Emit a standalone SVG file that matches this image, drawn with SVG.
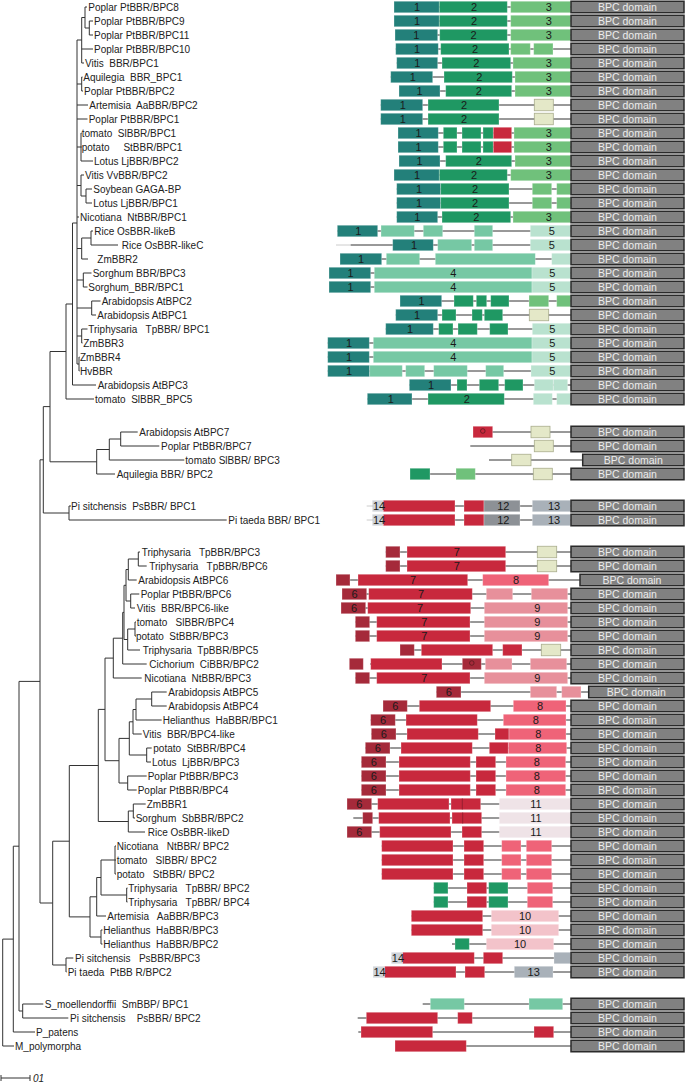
<svg xmlns="http://www.w3.org/2000/svg" width="686" height="1084" viewBox="0 0 686 1084">
<style>
.t{font-family:"Liberation Sans",Arial,sans-serif;font-size:10px;fill:#222;white-space:pre}
.n{font-family:"Liberation Sans",Arial,sans-serif;font-size:11px;fill:#1a1a1a;text-anchor:middle}
.ns{font-family:"Liberation Sans",Arial,sans-serif;font-size:11px;fill:#1a1a1a}
.bt{font-family:"Liberation Sans",Arial,sans-serif;font-size:10.5px;fill:#ececec;text-anchor:middle}
.br{fill:none;stroke:#333;stroke-width:1}
.ln{stroke:#333;stroke-width:1}
.lf{stroke:#ccc;stroke-width:1}
rect{stroke:#fff;stroke-opacity:.35;stroke-width:.8}
.bpc{fill:#818181;stroke:#2a2a2a;stroke-opacity:1;stroke-width:1.5}
.d1{fill:#23807a}.d2{fill:#1f9863}.d3{fill:#70c17b}.d4{fill:#76c8a4}.d5{fill:#b9e2cf}
.dp{fill:#e4e8c8;stroke:#a9ad8d;stroke-opacity:1}
.r{fill:#c8283d}.r6{fill:#a52a3a}.p8{fill:#ef6378}.p9{fill:#e7909b}.p10{fill:#f3c3ca}.p11{fill:#efe3e7}
.g12{fill:#8d9196}.g13{fill:#a9b1b9}.g14{fill:#cfd3d8}
.sym{fill:none;stroke:#5a1a20;stroke-width:.8}
</style>
<rect x="0" y="0" width="686" height="1084" fill="#fff" stroke="none"/>
<g id="tree" class="br">
<path d="M89.3,21V35M89.3,21H93M89.3,35H93M85,7V28M85,7H87M85,28H89.3M81.7,17.5V63M81.7,17.5H85M81.7,49H93M81.7,63H84M81.7,77V91M81.7,77H82.5M81.7,91H83M77,40V364M77,40H81.7M77,84H81.7M77,105H88M77,119H87.5M81,133V161M81,133H81.7M81,147H81.7M81,161H93M77,147H81M86,189V203M86,189H92M86,203H92M81,175V196M81,175H84M81,196H86M77,185.5H81M77,217H79M91,231V245M91,231H93M91,245H118M81.7,238V259M81.7,238H91M81.7,259H88M77,248.5H81.7M83.3,273V287M83.3,273H91.5M83.3,287H87.5M77,280H83.3M91.7,301V315M91.7,301H100.5M91.7,315H96M77,308H91.7M81.7,329V343M81.7,329H87.5M81.7,343H82.5M77,336H81.7M79,357V371M79,357H79.5M79,371H79.5M77,364H79M72.5,223V385M72.5,223H77M72.5,385H96M66,304V399M66,304H72.5M66,399H94M50,351.5V461.8M50,351.5H66"/>
<path d="M120.7,432V446M120.7,432H137.7M120.7,446H159.3M109.3,439V460M109.3,439H120.7M109.3,460H184.3M96.7,449.5V474M96.7,449.5H109.3M96.7,474H115M50,461.8H96.7"/>
<path d="M69,506V520M69,506H71M69,520H226.7M43.3,406.6V513M43.3,406.6H50M43.3,513H69M40,459.8V903M40,459.8H43.3M40,903H52.7"/>
<path d="M138.3,552V566M138.3,552H140M138.3,566H146.7M128.3,559V580M128.3,559H138.3M128.3,580H136.7M130.7,594V608M130.7,594H139.3M130.7,608H135M126,569.5V601M126,569.5H128.3M126,601H130.7M135,622V636M135,622H136M135,636H136M127.7,629V650M127.7,629H135M127.7,650H140M124,585.3V639.5M124,585.3H126M124,639.5H127.7M122.7,612.4V664M122.7,612.4H124M122.7,664H146.7M113.3,638.2V678M113.3,638.2H122.7M113.3,678H141.7"/>
<path d="M151.7,692V706M151.7,692H166.7M151.7,706H166.7M136,699V720M136,699H151.7M136,720H161.7M133,709.5V734M133,709.5H136M133,734H141.7M146.7,748V762M146.7,748H151.7M146.7,762H151M129.3,721.8V755M129.3,721.8H133M129.3,755H146.7M127.7,776V790M127.7,776H146.7M127.7,790H136.7M119,738.4V783M119,738.4H129.3M119,783H127.7M105,658.1V760.7M105,658.1H113.3M105,760.7H119"/>
<path d="M133.3,804V818M133.3,804H145.7M133.3,818H135M128.3,811V832M128.3,811H133.3M128.3,832H145M98.3,709.4V821.5M98.3,709.4H105M98.3,821.5H128.3"/>
<path d="M115,846V874M115,846H116M115,860H116M115,874H116M126.7,888V902M126.7,888H127.5M126.7,902H127.5M101,860V895M101,860H115M101,895H126.7M96.7,877.5V916M96.7,877.5H101M96.7,916H106M101,930V944M101,930H102.5M101,944H102.5M90,896.8V937M90,896.8H96.7M90,937H101M69.3,765.5V916.9M69.3,765.5H98.3M69.3,916.9H90M66,958V972M66,958H73.3M66,972H66.5M52.7,841.2V965M52.7,841.2H69.3M52.7,965H66"/>
<path d="M19,681.4V1011M19,681.4H40M19,1011H22.7M22.7,1004V1018M22.7,1004H43.3M22.7,1018H68.3M13.3,846.2V1032M13.3,846.2H19M13.3,1032H35M2.7,939.1V1046M2.7,939.1H13.3M2.7,1046H14"/>
<path d="M1,1078H30M1,1075V1081M30,1075V1081"/>
</g>
<text class="t" x="33" y="1081.5" font-style="italic">01</text>

<g id="r1" transform="translate(0,7)"><text class="t" x="88.3" y="3.5">Poplar PtBBR/BPC8</text><line class="ln" x1="394" x2="571"/><rect class="d1" x="394" y="-5.75" width="45.3" height="11.5"/><rect class="d2" x="439.3" y="-5.75" width="68" height="11.5"/><rect class="d3" x="510.7" y="-5.75" width="60" height="11.5"/><text class="n" x="417" y="4">1</text><text class="n" x="474" y="4">2</text><text class="n" x="548.7" y="4">3</text><rect class="bpc" x="571" y="-5.75" width="113" height="11.5"/><text class="bt" x="627.5" y="3.8">BPC domain</text></g>
<g id="r2" transform="translate(0,21)"><text class="t" x="94" y="3.5">Poplar PtBBR/BPC9</text><line class="ln" x1="394" x2="571"/><rect class="d1" x="394" y="-5.75" width="45.3" height="11.5"/><rect class="d2" x="439.3" y="-5.75" width="68" height="11.5"/><rect class="d3" x="510.7" y="-5.75" width="60" height="11.5"/><text class="n" x="417" y="4">1</text><text class="n" x="474" y="4">2</text><text class="n" x="548.7" y="4">3</text><rect class="bpc" x="571" y="-5.75" width="113" height="11.5"/><text class="bt" x="627.5" y="3.8">BPC domain</text></g>
<g id="r3" transform="translate(0,35)"><text class="t" x="94" y="3.5">Poplar PtBBR/BPC11</text><line class="ln" x1="395" x2="571"/><rect class="d1" x="395" y="-5.75" width="42.7" height="11.5"/><rect class="d2" x="439.7" y="-5.75" width="67.6" height="11.5"/><rect class="d3" x="510.7" y="-5.75" width="60" height="11.5"/><text class="n" x="416.3" y="4">1</text><text class="n" x="473.5" y="4">2</text><text class="n" x="548.7" y="4">3</text><rect class="bpc" x="571" y="-5.75" width="113" height="11.5"/><text class="bt" x="627.5" y="3.8">BPC domain</text></g>
<g id="r4" transform="translate(0,49)"><text class="t" x="94" y="3.5">Poplar PtBBR/BPC10</text><line class="ln" x1="395.7" x2="571"/><rect class="d1" x="395.7" y="-5.75" width="42.6" height="11.5"/><rect class="d2" x="440.7" y="-5.75" width="68.3" height="11.5"/><rect class="d3" x="510.7" y="-5.75" width="19.6" height="11.5"/><rect class="d3" x="533.7" y="-5.75" width="19.3" height="11.5"/><text class="n" x="417" y="4">1</text><text class="n" x="475" y="4">2</text><rect class="bpc" x="571" y="-5.75" width="113" height="11.5"/><text class="bt" x="627.5" y="3.8">BPC domain</text></g>
<g id="r5" transform="translate(0,63)"><text class="t" x="85" y="3.5">Vitis  BBR/BPC1</text><line class="ln" x1="396.7" x2="571"/><rect class="d1" x="396.7" y="-5.75" width="41" height="11.5"/><rect class="d2" x="442" y="-5.75" width="68.7" height="11.5"/><rect class="d3" x="513" y="-5.75" width="57.7" height="11.5"/><text class="n" x="417.2" y="4">1</text><text class="n" x="476.3" y="4">2</text><text class="n" x="548.7" y="4">3</text><rect class="bpc" x="571" y="-5.75" width="113" height="11.5"/><text class="bt" x="627.5" y="3.8">BPC domain</text></g>
<g id="r6" transform="translate(0,77)"><text class="t" x="83.3" y="3.5">Aquilegia  BBR_BPC1</text><line class="ln" x1="390.7" x2="571"/><rect class="d1" x="390.7" y="-5.75" width="42" height="11.5"/><rect class="d2" x="444" y="-5.75" width="68.3" height="11.5"/><rect class="d3" x="515" y="-5.75" width="55.7" height="11.5"/><text class="n" x="412.7" y="4">1</text><text class="n" x="479.3" y="4">2</text><text class="n" x="548.7" y="4">3</text><rect class="bpc" x="571" y="-5.75" width="113" height="11.5"/><text class="bt" x="627.5" y="3.8">BPC domain</text></g>
<g id="r7" transform="translate(0,91)"><text class="t" x="84" y="3.5">Poplar PtBBR/BPC2</text><line class="ln" x1="399" x2="571"/><rect class="d1" x="399" y="-5.75" width="41" height="11.5"/><rect class="d2" x="445.7" y="-5.75" width="66" height="11.5"/><rect class="d3" x="515" y="-5.75" width="55.7" height="11.5"/><text class="n" x="419.5" y="4">1</text><text class="n" x="478.7" y="4">2</text><text class="n" x="548.7" y="4">3</text><rect class="bpc" x="571" y="-5.75" width="113" height="11.5"/><text class="bt" x="627.5" y="3.8">BPC domain</text></g>
<g id="r8" transform="translate(0,105)"><text class="t" x="89.3" y="3.5">Artemisia  AaBBR/BPC2</text><line class="ln" x1="380.7" x2="571"/><rect class="d1" x="380.7" y="-5.75" width="42" height="11.5"/><rect class="d2" x="428" y="-5.75" width="71" height="11.5"/><rect class="dp" x="534.3" y="-5.75" width="19" height="11.5"/><text class="n" x="402.7" y="4">1</text><text class="n" x="464" y="4">2</text><rect class="bpc" x="571" y="-5.75" width="113" height="11.5"/><text class="bt" x="627.5" y="3.8">BPC domain</text></g>
<g id="r9" transform="translate(0,119)"><text class="t" x="88.7" y="3.5">Poplar PtBBR/BPC1</text><line class="ln" x1="380.7" x2="571"/><rect class="d1" x="380.7" y="-5.75" width="42" height="11.5"/><rect class="d2" x="428" y="-5.75" width="71" height="11.5"/><rect class="dp" x="534.3" y="-5.75" width="19" height="11.5"/><text class="n" x="402.7" y="4">1</text><text class="n" x="464" y="4">2</text><rect class="bpc" x="571" y="-5.75" width="113" height="11.5"/><text class="bt" x="627.5" y="3.8">BPC domain</text></g>
<g id="r10" transform="translate(0,133)"><text class="t" x="81.7" y="3.5">tomato  SlBBR/BPC1</text><line class="ln" x1="398" x2="571"/><rect class="d1" x="398" y="-5.75" width="40.3" height="11.5"/><rect class="d2" x="443.3" y="-5.75" width="13.7" height="11.5"/><rect class="d2" x="462" y="-5.75" width="19" height="11.5"/><rect class="d2" x="483" y="-5.75" width="10.3" height="11.5"/><rect class="r" x="493.3" y="-5.75" width="18.4" height="11.5"/><rect class="d3" x="514" y="-5.75" width="56.7" height="11.5"/><text class="n" x="418.5" y="4">1</text><text class="n" x="548.7" y="4">3</text><rect class="bpc" x="571" y="-5.75" width="113" height="11.5"/><text class="bt" x="627.5" y="3.8">BPC domain</text></g>
<g id="r11" transform="translate(0,147)"><text class="t" x="81.7" y="3.5">potato     StBBR/BPC1</text><line class="ln" x1="398" x2="571"/><rect class="d1" x="398" y="-5.75" width="40.3" height="11.5"/><rect class="d2" x="443.3" y="-5.75" width="13.7" height="11.5"/><rect class="d2" x="462" y="-5.75" width="19" height="11.5"/><rect class="d2" x="483" y="-5.75" width="10.3" height="11.5"/><rect class="r" x="493.3" y="-5.75" width="18.4" height="11.5"/><rect class="d3" x="514" y="-5.75" width="56.7" height="11.5"/><text class="n" x="418.5" y="4">1</text><text class="n" x="548.7" y="4">3</text><rect class="bpc" x="571" y="-5.75" width="113" height="11.5"/><text class="bt" x="627.5" y="3.8">BPC domain</text></g>
<g id="r12" transform="translate(0,161)"><text class="t" x="94" y="3.5">Lotus LjBBR/BPC2</text><line class="ln" x1="399" x2="571"/><rect class="d1" x="399" y="-5.75" width="41" height="11.5"/><rect class="d2" x="445.7" y="-5.75" width="66" height="11.5"/><rect class="d3" x="515" y="-5.75" width="55.7" height="11.5"/><text class="n" x="419.5" y="4">1</text><text class="n" x="478.7" y="4">2</text><text class="n" x="548.7" y="4">3</text><rect class="bpc" x="571" y="-5.75" width="113" height="11.5"/><text class="bt" x="627.5" y="3.8">BPC domain</text></g>
<g id="r13" transform="translate(0,175)"><text class="t" x="85" y="3.5">Vitis VvBBR/BPC2</text><line class="ln" x1="394" x2="571"/><rect class="d1" x="394" y="-5.75" width="45.3" height="11.5"/><rect class="d2" x="439.3" y="-5.75" width="68" height="11.5"/><rect class="d3" x="510.7" y="-5.75" width="60" height="11.5"/><text class="n" x="417" y="4">1</text><text class="n" x="474" y="4">2</text><text class="n" x="548.7" y="4">3</text><rect class="bpc" x="571" y="-5.75" width="113" height="11.5"/><text class="bt" x="627.5" y="3.8">BPC domain</text></g>
<g id="r14" transform="translate(0,189)"><text class="t" x="93.3" y="3.5">Soybean GAGA-BP</text><line class="ln" x1="396.7" x2="571"/><rect class="d1" x="396.7" y="-5.75" width="44" height="11.5"/><rect class="d2" x="440.7" y="-5.75" width="68.3" height="11.5"/><rect class="d3" x="532.3" y="-5.75" width="19.4" height="11.5"/><rect class="d3" x="556.7" y="-5.75" width="14" height="11.5"/><text class="n" x="419" y="4">1</text><text class="n" x="475" y="4">2</text><rect class="bpc" x="571" y="-5.75" width="113" height="11.5"/><text class="bt" x="627.5" y="3.8">BPC domain</text></g>
<g id="r15" transform="translate(0,203)"><text class="t" x="93.3" y="3.5">Lotus LjBBR/BPC1</text><line class="ln" x1="396.7" x2="571"/><rect class="d1" x="396.7" y="-5.75" width="44" height="11.5"/><rect class="d2" x="440.7" y="-5.75" width="68.3" height="11.5"/><rect class="d3" x="532.3" y="-5.75" width="19.4" height="11.5"/><rect class="d3" x="556.7" y="-5.75" width="14" height="11.5"/><text class="n" x="419" y="4">1</text><text class="n" x="475" y="4">2</text><rect class="bpc" x="571" y="-5.75" width="113" height="11.5"/><text class="bt" x="627.5" y="3.8">BPC domain</text></g>
<g id="r16" transform="translate(0,217)"><text class="t" x="80" y="3.5">Nicotiana  NtBBR/BPC1</text><line class="ln" x1="396.7" x2="571"/><rect class="d1" x="396.7" y="-5.75" width="41" height="11.5"/><rect class="d2" x="442" y="-5.75" width="68.7" height="11.5"/><rect class="d3" x="513" y="-5.75" width="57.7" height="11.5"/><text class="n" x="417.2" y="4">1</text><text class="n" x="476.3" y="4">2</text><text class="n" x="548.7" y="4">3</text><rect class="bpc" x="571" y="-5.75" width="113" height="11.5"/><text class="bt" x="627.5" y="3.8">BPC domain</text></g>
<g id="r17" transform="translate(0,231)"><text class="t" x="94.3" y="3.5">Rice OsBBR-likeB</text><line class="ln" x1="337.3" x2="571"/><rect class="d1" x="337.3" y="-5.75" width="40.4" height="11.5"/><rect class="d4" x="381" y="-5.75" width="33.3" height="11.5"/><rect class="d4" x="423.3" y="-5.75" width="19.4" height="11.5"/><rect class="d4" x="474.3" y="-5.75" width="18.4" height="11.5"/><rect class="d5" x="530.3" y="-5.75" width="40.4" height="11.5"/><text class="n" x="358.3" y="4">1</text><text class="n" x="551.7" y="4">5</text><rect class="bpc" x="571" y="-5.75" width="113" height="11.5"/><text class="bt" x="627.5" y="3.8">BPC domain</text></g>
<g id="r18" transform="translate(0,245)"><text class="t" x="121.7" y="3.5">Rice OsBBR-likeC</text><line class="lf" x1="336" x2="350.7"/><line class="ln" x1="350.7" x2="571"/><rect class="d1" x="392.7" y="-5.75" width="40.6" height="11.5"/><rect class="d4" x="437.7" y="-5.75" width="34" height="11.5"/><rect class="d4" x="474.3" y="-5.75" width="18.4" height="11.5"/><rect class="d5" x="530.3" y="-5.75" width="40.4" height="11.5"/><text class="n" x="414" y="4">1</text><text class="n" x="551.7" y="4">5</text><rect class="bpc" x="571" y="-5.75" width="113" height="11.5"/><text class="bt" x="627.5" y="3.8">BPC domain</text></g>
<g id="r19" transform="translate(0,259)"><text class="t" x="97.3" y="3.5">ZmBBR2</text><line class="ln" x1="340" x2="571"/><rect class="d1" x="340" y="-5.75" width="41.7" height="11.5"/><rect class="d4" x="386.3" y="-5.75" width="33.4" height="11.5"/><rect class="d4" x="435.3" y="-5.75" width="100" height="11.5"/><rect class="d5" x="551.7" y="-5.75" width="19" height="11.5"/><text class="n" x="361" y="4">1</text><rect class="bpc" x="571" y="-5.75" width="113" height="11.5"/><text class="bt" x="627.5" y="3.8">BPC domain</text></g>
<g id="r20" transform="translate(0,273)"><text class="t" x="92.7" y="3.5">Sorghum BBR/BPC3</text><line class="ln" x1="329" x2="571"/><rect class="d1" x="329" y="-5.75" width="41.7" height="11.5"/><rect class="d4" x="374.3" y="-5.75" width="157.7" height="11.5"/><rect class="d5" x="532" y="-5.75" width="38.7" height="11.5"/><text class="n" x="350.5" y="4">1</text><text class="n" x="453.3" y="4">4</text><text class="n" x="552.3" y="4">5</text><rect class="bpc" x="571" y="-5.75" width="113" height="11.5"/><text class="bt" x="627.5" y="3.8">BPC domain</text></g>
<g id="r21" transform="translate(0,287)"><text class="t" x="88.3" y="3.5">Sorghum_BBR/BPC1</text><line class="ln" x1="329" x2="571"/><rect class="d1" x="329" y="-5.75" width="41.7" height="11.5"/><rect class="d4" x="374.3" y="-5.75" width="157.7" height="11.5"/><rect class="d5" x="532" y="-5.75" width="38.7" height="11.5"/><text class="n" x="350.5" y="4">1</text><text class="n" x="453.3" y="4">4</text><text class="n" x="552.3" y="4">5</text><rect class="bpc" x="571" y="-5.75" width="113" height="11.5"/><text class="bt" x="627.5" y="3.8">BPC domain</text></g>
<g id="r22" transform="translate(0,301)"><text class="t" x="101.7" y="3.5">Arabidopsis AtBPC2</text><line class="ln" x1="400" x2="571"/><rect class="d1" x="400" y="-5.75" width="41.7" height="11.5"/><rect class="d2" x="454" y="-5.75" width="19.3" height="11.5"/><rect class="d2" x="476.3" y="-5.75" width="10.4" height="11.5"/><rect class="d2" x="490.7" y="-5.75" width="18.3" height="11.5"/><rect class="d3" x="529" y="-5.75" width="19.7" height="11.5"/><rect class="d3" x="556.7" y="-5.75" width="14" height="11.5"/><text class="n" x="421.5" y="4">1</text><rect class="bpc" x="571" y="-5.75" width="113" height="11.5"/><text class="bt" x="627.5" y="3.8">BPC domain</text></g>
<g id="r23" transform="translate(0,315)"><text class="t" x="97.3" y="3.5">Arabidopsis AtBPC1</text><line class="ln" x1="395.7" x2="571"/><rect class="d1" x="395.7" y="-5.75" width="42" height="11.5"/><rect class="d2" x="442" y="-5.75" width="14" height="11.5"/><rect class="d2" x="472" y="-5.75" width="10.3" height="11.5"/><rect class="d2" x="484.3" y="-5.75" width="18.4" height="11.5"/><rect class="dp" x="529.3" y="-5.75" width="19.4" height="11.5"/><text class="n" x="417" y="4">1</text><rect class="bpc" x="571" y="-5.75" width="113" height="11.5"/><text class="bt" x="627.5" y="3.8">BPC domain</text></g>
<g id="r24" transform="translate(0,329)"><text class="t" x="88.3" y="3.5">Triphysaria   TpBBR/ BPC1</text><line class="ln" x1="385.7" x2="571"/><rect class="d1" x="385.7" y="-5.75" width="47.6" height="11.5"/><rect class="d2" x="438.7" y="-5.75" width="14.3" height="11.5"/><rect class="d2" x="458" y="-5.75" width="19.3" height="11.5"/><rect class="d2" x="489.7" y="-5.75" width="18.3" height="11.5"/><rect class="d5" x="532.3" y="-5.75" width="38.4" height="11.5"/><text class="n" x="410" y="4">1</text><text class="n" x="552.3" y="4">5</text><rect class="bpc" x="571" y="-5.75" width="113" height="11.5"/><text class="bt" x="627.5" y="3.8">BPC domain</text></g>
<g id="r25" transform="translate(0,343)"><text class="t" x="83.3" y="3.5">ZmBBR3</text><line class="ln" x1="327.7" x2="571"/><rect class="d1" x="327.7" y="-5.75" width="41.6" height="11.5"/><rect class="d4" x="373.3" y="-5.75" width="158.7" height="11.5"/><rect class="d5" x="532" y="-5.75" width="38.7" height="11.5"/><text class="n" x="349" y="4">1</text><text class="n" x="453.3" y="4">4</text><text class="n" x="552.3" y="4">5</text><rect class="bpc" x="571" y="-5.75" width="113" height="11.5"/><text class="bt" x="627.5" y="3.8">BPC domain</text></g>
<g id="r26" transform="translate(0,357)"><text class="t" x="80" y="3.5">ZmBBR4</text><line class="ln" x1="327.7" x2="571"/><rect class="d1" x="327.7" y="-5.75" width="41.6" height="11.5"/><rect class="d4" x="373.3" y="-5.75" width="158.7" height="11.5"/><rect class="d5" x="532" y="-5.75" width="38.7" height="11.5"/><text class="n" x="349" y="4">1</text><text class="n" x="453.3" y="4">4</text><text class="n" x="552.3" y="4">5</text><rect class="bpc" x="571" y="-5.75" width="113" height="11.5"/><text class="bt" x="627.5" y="3.8">BPC domain</text></g>
<g id="r27" transform="translate(0,371)"><text class="t" x="80" y="3.5">HvBBR</text><line class="ln" x1="327.7" x2="571"/><rect class="d1" x="327.7" y="-5.75" width="42" height="11.5"/><rect class="d4" x="369.7" y="-5.75" width="32.6" height="11.5"/><rect class="d4" x="405.7" y="-5.75" width="19" height="11.5"/><rect class="d4" x="433.7" y="-5.75" width="33.6" height="11.5"/><rect class="d4" x="485.7" y="-5.75" width="18" height="11.5"/><rect class="d5" x="531" y="-5.75" width="39.7" height="11.5"/><text class="n" x="349" y="4">1</text><text class="n" x="552.3" y="4">5</text><rect class="bpc" x="571" y="-5.75" width="113" height="11.5"/><text class="bt" x="627.5" y="3.8">BPC domain</text></g>
<g id="r28" transform="translate(0,385)"><text class="t" x="97.7" y="3.5">Arabidopsis AtBPC3</text><line class="ln" x1="409.3" x2="571"/><rect class="d1" x="409.3" y="-5.75" width="41.7" height="11.5"/><rect class="d2" x="457" y="-5.75" width="10" height="11.5"/><rect class="d2" x="479.3" y="-5.75" width="19.4" height="11.5"/><rect class="d2" x="504.7" y="-5.75" width="18.3" height="11.5"/><rect class="d5" x="534.3" y="-5.75" width="19" height="11.5"/><rect class="d5" x="553.3" y="-5.75" width="14.4" height="11.5"/><text class="n" x="431" y="4">1</text><rect class="bpc" x="571" y="-5.75" width="113" height="11.5"/><text class="bt" x="627.5" y="3.8">BPC domain</text></g>
<g id="r29" transform="translate(0,399)"><text class="t" x="95" y="3.5">tomato  SlBBR_BPC5</text><line class="ln" x1="367.3" x2="571"/><rect class="d1" x="367.3" y="-5.75" width="44.7" height="11.5"/><rect class="d2" x="428" y="-5.75" width="76.3" height="11.5"/><rect class="d5" x="533.3" y="-5.75" width="19" height="11.5"/><rect class="d5" x="556.7" y="-5.75" width="14" height="11.5"/><text class="n" x="390.7" y="4">1</text><text class="n" x="466.7" y="4">2</text><rect class="bpc" x="571" y="-5.75" width="113" height="11.5"/><text class="bt" x="627.5" y="3.8">BPC domain</text></g>

<g id="r30" transform="translate(0,432)"><text class="t" x="139.3" y="3.5">Arabidopsis AtBPC7</text><line class="ln" x1="473" x2="571"/><rect class="r" x="473" y="-5.75" width="19.7" height="11.5"/><circle class="sym" cx="482.8" cy="-1" r="2.3"/><rect class="dp" x="531" y="-5.75" width="19" height="11.5"/><rect class="bpc" x="571" y="-5.75" width="113" height="11.5"/><text class="bt" x="627.5" y="3.8">BPC domain</text></g>
<g id="r31" transform="translate(0,446)"><text class="t" x="161" y="3.5">Poplar PtBBR/BPC7</text><line class="ln" x1="470.3" x2="571"/><rect class="dp" x="534.3" y="-5.75" width="19" height="11.5"/><rect class="bpc" x="571" y="-5.75" width="113" height="11.5"/><text class="bt" x="627.5" y="3.8">BPC domain</text></g>
<g id="r32" transform="translate(0,460)"><text class="t" x="185.3" y="3.5">tomato SlBBR/ BPC3</text><line class="ln" x1="489" x2="582.7"/><rect class="dp" x="511.7" y="-5.75" width="19.3" height="11.5"/><rect class="bpc" x="582.7" y="-5.75" width="101.3" height="11.5"/><text class="bt" x="633.3" y="3.8">BPC domain</text></g>
<g id="r33" transform="translate(0,474)"><text class="t" x="116.7" y="3.5">Aquilegia BBR/ BPC2</text><line class="ln" x1="410" x2="571"/><rect class="d2" x="410" y="-5.75" width="20" height="11.5"/><rect class="d3" x="456" y="-5.75" width="19.3" height="11.5"/><rect class="dp" x="533.3" y="-5.75" width="19" height="11.5"/><rect class="bpc" x="571" y="-5.75" width="113" height="11.5"/><text class="bt" x="627.5" y="3.8">BPC domain</text></g>

<g id="r34" transform="translate(0,506)"><text class="t" x="71" y="3.5">Pi sitchensis  PsBBR/ BPC1</text><line class="lf" x1="366.7" x2="372.3"/><line class="ln" x1="372.3" x2="571"/><rect class="g14" x="372.3" y="-5.75" width="11" height="11.5"/><rect class="r" x="383.3" y="-5.75" width="71.7" height="11.5"/><rect class="r" x="464" y="-5.75" width="20" height="11.5"/><rect class="g12" x="484" y="-5.75" width="36" height="11.5"/><rect class="g13" x="532.3" y="-5.75" width="38.4" height="11.5"/><text class="ns" x="373" y="4">14</text><text class="n" x="503.3" y="4">12</text><text class="n" x="554" y="4">13</text><rect class="bpc" x="571" y="-5.75" width="113" height="11.5"/><text class="bt" x="627.5" y="3.8">BPC domain</text></g>
<g id="r35" transform="translate(0,520)"><text class="t" x="228.3" y="3.5">Pi taeda BBR/ BPC1</text><line class="lf" x1="366.7" x2="372.3"/><line class="ln" x1="372.3" x2="571"/><rect class="g14" x="372.3" y="-5.75" width="11" height="11.5"/><rect class="r" x="383.3" y="-5.75" width="71.7" height="11.5"/><rect class="r" x="464" y="-5.75" width="20" height="11.5"/><rect class="g12" x="484" y="-5.75" width="36" height="11.5"/><rect class="g13" x="532.3" y="-5.75" width="38.4" height="11.5"/><text class="ns" x="373" y="4">14</text><text class="n" x="503.3" y="4">12</text><text class="n" x="554" y="4">13</text><rect class="bpc" x="571" y="-5.75" width="113" height="11.5"/><text class="bt" x="627.5" y="3.8">BPC domain</text></g>

<g id="r36" transform="translate(0,552)"><text class="t" x="141.7" y="3.5">Triphysaria   TpBBR/BPC3</text><line class="ln" x1="385.7" x2="571"/><rect class="r6" x="385.7" y="-5.75" width="14.3" height="11.5"/><rect class="r" x="407" y="-5.75" width="98.7" height="11.5"/><rect class="dp" x="537.3" y="-5.75" width="19.4" height="11.5"/><text class="n" x="456.7" y="4">7</text><rect class="bpc" x="571" y="-5.75" width="113" height="11.5"/><text class="bt" x="627.5" y="3.8">BPC domain</text></g>
<g id="r37" transform="translate(0,566)"><text class="t" x="149.3" y="3.5">Triphysaria   TpBBR/BPC6</text><line class="ln" x1="385.7" x2="571"/><rect class="r6" x="385.7" y="-5.75" width="14.3" height="11.5"/><rect class="r" x="407" y="-5.75" width="98.7" height="11.5"/><rect class="dp" x="537.3" y="-5.75" width="19.4" height="11.5"/><text class="n" x="456.7" y="4">7</text><rect class="bpc" x="571" y="-5.75" width="113" height="11.5"/><text class="bt" x="627.5" y="3.8">BPC domain</text></g>
<g id="r38" transform="translate(0,580)"><text class="t" x="138.3" y="3.5">Arabidopsis AtBPC6</text><line class="ln" x1="336" x2="580"/><rect class="r6" x="336" y="-5.75" width="14" height="11.5"/><rect class="r" x="358" y="-5.75" width="109.7" height="11.5"/><rect class="p8" x="482.7" y="-5.75" width="66" height="11.5"/><text class="n" x="413" y="4">7</text><text class="n" x="516" y="4">8</text><rect class="bpc" x="580" y="-5.75" width="104" height="11.5"/><text class="bt" x="632" y="3.8">BPC domain</text></g>
<g id="r39" transform="translate(0,594)"><text class="t" x="140.7" y="3.5">Poplar PtBBR/BPC6</text><line class="ln" x1="342" x2="571"/><rect class="r6" x="342" y="-5.75" width="24.7" height="11.5"/><rect class="r" x="368.7" y="-5.75" width="103.6" height="11.5"/><rect class="p9" x="486.3" y="-5.75" width="26.4" height="11.5"/><rect class="p9" x="531.3" y="-5.75" width="36.4" height="11.5"/><text class="n" x="354.5" y="4">6</text><text class="n" x="421" y="4">7</text><rect class="bpc" x="571" y="-5.75" width="113" height="11.5"/><text class="bt" x="627.5" y="3.8">BPC domain</text></g>
<g id="r40" transform="translate(0,608)"><text class="t" x="136.7" y="3.5">Vitis  BBR/BPC6-like</text><line class="ln" x1="341" x2="571"/><rect class="r6" x="341" y="-5.75" width="24.7" height="11.5"/><rect class="r" x="367.7" y="-5.75" width="103" height="11.5"/><rect class="p9" x="484.3" y="-5.75" width="83.4" height="11.5"/><text class="n" x="354" y="4">6</text><text class="n" x="420" y="4">7</text><text class="n" x="537.3" y="4">9</text><rect class="bpc" x="571" y="-5.75" width="113" height="11.5"/><text class="bt" x="627.5" y="3.8">BPC domain</text></g>
<g id="r41" transform="translate(0,622)"><text class="t" x="136.7" y="3.5">tomato   SlBBR/BPC4</text><line class="ln" x1="355.3" x2="571"/><rect class="r6" x="355.3" y="-5.75" width="14.4" height="11.5"/><rect class="r" x="376.7" y="-5.75" width="93.3" height="11.5"/><rect class="p9" x="484.3" y="-5.75" width="83.4" height="11.5"/><text class="n" x="424.3" y="4">7</text><text class="n" x="537.3" y="4">9</text><rect class="bpc" x="571" y="-5.75" width="113" height="11.5"/><text class="bt" x="627.5" y="3.8">BPC domain</text></g>
<g id="r42" transform="translate(0,636)"><text class="t" x="136" y="3.5">potato  StBBR/BPC3</text><line class="ln" x1="355.3" x2="571"/><rect class="r6" x="355.3" y="-5.75" width="14.4" height="11.5"/><rect class="r" x="376.7" y="-5.75" width="93.3" height="11.5"/><rect class="p9" x="484.3" y="-5.75" width="83.4" height="11.5"/><text class="n" x="424.3" y="4">7</text><text class="n" x="537.3" y="4">9</text><rect class="bpc" x="571" y="-5.75" width="113" height="11.5"/><text class="bt" x="627.5" y="3.8">BPC domain</text></g>
<g id="r43" transform="translate(0,650)"><text class="t" x="142.7" y="3.5">Triphysaria  TpBBR/BPC5</text><line class="ln" x1="400" x2="571"/><rect class="r6" x="400" y="-5.75" width="14.3" height="11.5"/><rect class="r" x="421.3" y="-5.75" width="71.4" height="11.5"/><rect class="r" x="502.7" y="-5.75" width="19.3" height="11.5"/><rect class="dp" x="541.3" y="-5.75" width="19.4" height="11.5"/><rect class="bpc" x="571" y="-5.75" width="113" height="11.5"/><text class="bt" x="627.5" y="3.8">BPC domain</text></g>
<g id="r44" transform="translate(0,664)"><text class="t" x="149.3" y="3.5">Cichorium  CiBBR/BPC2</text><line class="ln" x1="370" x2="571"/><rect class="r6" x="349.3" y="-5.75" width="14" height="11.5"/><rect class="r" x="370.7" y="-5.75" width="71.3" height="11.5"/><rect class="r6" x="462.3" y="-5.75" width="19" height="11.5"/><circle class="sym" cx="471.8" cy="-1" r="2.3"/><rect class="p9" x="485.3" y="-5.75" width="26.7" height="11.5"/><rect class="p9" x="530.3" y="-5.75" width="36.4" height="11.5"/><rect class="bpc" x="571" y="-5.75" width="113" height="11.5"/><text class="bt" x="627.5" y="3.8">BPC domain</text></g>
<g id="r45" transform="translate(0,678)"><text class="t" x="144.3" y="3.5">Nicotiana  NtBBR/BPC3</text><line class="ln" x1="355.3" x2="571"/><rect class="r6" x="355.3" y="-5.75" width="14.4" height="11.5"/><rect class="r" x="376.7" y="-5.75" width="93.3" height="11.5"/><rect class="p9" x="484.3" y="-5.75" width="83.4" height="11.5"/><text class="n" x="424.3" y="4">7</text><text class="n" x="537.3" y="4">9</text><rect class="bpc" x="571" y="-5.75" width="113" height="11.5"/><text class="bt" x="627.5" y="3.8">BPC domain</text></g>
<g id="r46" transform="translate(0,692)"><text class="t" x="168.3" y="3.5">Arabidopsis AtBPC5</text><line class="ln" x1="436.3" x2="588.7"/><rect class="r6" x="436.3" y="-5.75" width="24.7" height="11.5"/><rect class="p9" x="530.3" y="-5.75" width="26.4" height="11.5"/><rect class="p9" x="561.7" y="-5.75" width="19.3" height="11.5"/><text class="n" x="448.7" y="4">6</text><rect class="bpc" x="588.7" y="-5.75" width="95.3" height="11.5"/><text class="bt" x="636.3" y="3.8">BPC domain</text></g>
<g id="r47" transform="translate(0,706)"><text class="t" x="168.3" y="3.5">Arabidopsis AtBPC4</text><line class="ln" x1="383" x2="571"/><rect class="r6" x="383" y="-5.75" width="24.3" height="11.5"/><rect class="r" x="419.3" y="-5.75" width="71.4" height="11.5"/><rect class="p8" x="513.3" y="-5.75" width="52.7" height="11.5"/><text class="n" x="395.2" y="4">6</text><text class="n" x="540" y="4">8</text><rect class="bpc" x="571" y="-5.75" width="113" height="11.5"/><text class="bt" x="627.5" y="3.8">BPC domain</text></g>
<g id="r48" transform="translate(0,720)"><text class="t" x="162.7" y="3.5">Helianthus  HaBBR/BPC1</text><line class="ln" x1="370.7" x2="571"/><rect class="r6" x="370.7" y="-5.75" width="24.6" height="11.5"/><rect class="r" x="406" y="-5.75" width="71.3" height="11.5"/><rect class="p8" x="503.3" y="-5.75" width="62.7" height="11.5"/><text class="n" x="383" y="4">6</text><text class="n" x="535.7" y="4">8</text><rect class="bpc" x="571" y="-5.75" width="113" height="11.5"/><text class="bt" x="627.5" y="3.8">BPC domain</text></g>
<g id="r49" transform="translate(0,734)"><text class="t" x="142.7" y="3.5">Vitis  BBR/BPC4-like</text><line class="ln" x1="371.3" x2="571"/><rect class="r6" x="371.3" y="-5.75" width="24.7" height="11.5"/><rect class="r" x="407" y="-5.75" width="71.3" height="11.5"/><rect class="r" x="495" y="-5.75" width="14" height="11.5"/><rect class="p8" x="509" y="-5.75" width="57" height="11.5"/><text class="n" x="383.7" y="4">6</text><text class="n" x="538.3" y="4">8</text><rect class="bpc" x="571" y="-5.75" width="113" height="11.5"/><text class="bt" x="627.5" y="3.8">BPC domain</text></g>
<g id="r50" transform="translate(0,748)"><text class="t" x="153.3" y="3.5">potato  StBBR/BPC4</text><line class="ln" x1="365.3" x2="571"/><rect class="r6" x="365.3" y="-5.75" width="24.7" height="11.5"/><rect class="r" x="401" y="-5.75" width="71.3" height="11.5"/><rect class="r" x="489.3" y="-5.75" width="19" height="11.5"/><rect class="p8" x="508.3" y="-5.75" width="58.4" height="11.5"/><text class="n" x="377.7" y="4">6</text><text class="n" x="538.3" y="4">8</text><rect class="bpc" x="571" y="-5.75" width="113" height="11.5"/><text class="bt" x="627.5" y="3.8">BPC domain</text></g>
<g id="r51" transform="translate(0,762)"><text class="t" x="152" y="3.5">Lotus  LjBBR/BPC3</text><line class="ln" x1="361.3" x2="571"/><rect class="r6" x="361.3" y="-5.75" width="24.7" height="11.5"/><rect class="r" x="399" y="-5.75" width="71.3" height="11.5"/><rect class="r" x="476" y="-5.75" width="19.7" height="11.5"/><rect class="p8" x="506" y="-5.75" width="59.7" height="11.5"/><text class="n" x="373.7" y="4">6</text><text class="n" x="536.7" y="4">8</text><rect class="bpc" x="571" y="-5.75" width="113" height="11.5"/><text class="bt" x="627.5" y="3.8">BPC domain</text></g>
<g id="r52" transform="translate(0,776)"><text class="t" x="147.7" y="3.5">Poplar PtBBR/BPC3</text><line class="ln" x1="361.3" x2="571"/><rect class="r6" x="361.3" y="-5.75" width="24.7" height="11.5"/><rect class="r" x="399" y="-5.75" width="71.3" height="11.5"/><rect class="r" x="476" y="-5.75" width="19.7" height="11.5"/><rect class="p8" x="506" y="-5.75" width="59.7" height="11.5"/><text class="n" x="373.7" y="4">6</text><text class="n" x="536.7" y="4">8</text><rect class="bpc" x="571" y="-5.75" width="113" height="11.5"/><text class="bt" x="627.5" y="3.8">BPC domain</text></g>
<g id="r53" transform="translate(0,790)"><text class="t" x="137.7" y="3.5">Poplar PtBBR/BPC4</text><line class="ln" x1="361.3" x2="571"/><rect class="r6" x="361.3" y="-5.75" width="24.7" height="11.5"/><rect class="r" x="399" y="-5.75" width="71.3" height="11.5"/><rect class="r" x="476" y="-5.75" width="19.7" height="11.5"/><rect class="p8" x="506" y="-5.75" width="59.7" height="11.5"/><text class="n" x="373.7" y="4">6</text><text class="n" x="536.7" y="4">8</text><rect class="bpc" x="571" y="-5.75" width="113" height="11.5"/><text class="bt" x="627.5" y="3.8">BPC domain</text></g>
<g id="r54" transform="translate(0,804)"><text class="t" x="146.7" y="3.5">ZmBBR1</text><line class="ln" x1="347" x2="571"/><rect class="r6" x="347" y="-5.75" width="24.7" height="11.5"/><rect class="r" x="377.7" y="-5.75" width="71.3" height="11.5"/><rect class="r" x="451" y="-5.75" width="29.7" height="11.5"/><line x1="462.3" x2="462.3" y1="-5.5" y2="5.5" stroke="#8a1d2c" stroke-width=".8"/><rect class="p11" x="499.3" y="-5.75" width="71.4" height="11.5"/><text class="n" x="359.3" y="4">6</text><text class="n" x="536" y="4">11</text><rect class="bpc" x="571" y="-5.75" width="113" height="11.5"/><text class="bt" x="627.5" y="3.8">BPC domain</text></g>
<g id="r55" transform="translate(0,818)"><text class="t" x="135.7" y="3.5">Sorghum  SbBBR/BPC2</text><line class="ln" x1="353.3" x2="571"/><rect class="r6" x="362.7" y="-5.75" width="10" height="11.5"/><rect class="r" x="378.7" y="-5.75" width="71.3" height="11.5"/><rect class="r" x="452" y="-5.75" width="29.7" height="11.5"/><line x1="462.7" x2="462.7" y1="-5.5" y2="5.5" stroke="#8a1d2c" stroke-width=".8"/><rect class="p11" x="499.3" y="-5.75" width="71.4" height="11.5"/><text class="n" x="536" y="4">11</text><rect class="bpc" x="571" y="-5.75" width="113" height="11.5"/><text class="bt" x="627.5" y="3.8">BPC domain</text></g>
<g id="r56" transform="translate(0,832)"><text class="t" x="147.7" y="3.5">Rice OsBBR-likeD</text><line class="ln" x1="347" x2="571"/><rect class="r6" x="347" y="-5.75" width="24.7" height="11.5"/><rect class="r" x="379.7" y="-5.75" width="71.3" height="11.5"/><rect class="r" x="462" y="-5.75" width="19.7" height="11.5"/><rect class="p11" x="499.3" y="-5.75" width="71.4" height="11.5"/><text class="n" x="359.3" y="4">6</text><text class="n" x="536" y="4">11</text><rect class="bpc" x="571" y="-5.75" width="113" height="11.5"/><text class="bt" x="627.5" y="3.8">BPC domain</text></g>
<g id="r57" transform="translate(0,846)"><text class="t" x="116.7" y="3.5">Nicotiana   NtBBR/ BPC2</text><line class="ln" x1="381.7" x2="571"/><rect class="r" x="381.7" y="-5.75" width="71.3" height="11.5"/><rect class="r" x="464" y="-5.75" width="19.7" height="11.5"/><rect class="p8" x="501.7" y="-5.75" width="19.3" height="11.5"/><rect class="p8" x="526.3" y="-5.75" width="25.4" height="11.5"/><rect class="bpc" x="571" y="-5.75" width="113" height="11.5"/><text class="bt" x="627.5" y="3.8">BPC domain</text></g>
<g id="r58" transform="translate(0,860)"><text class="t" x="116.7" y="3.5">tomato   SlBBR/ BPC2</text><line class="ln" x1="381.7" x2="571"/><rect class="r" x="381.7" y="-5.75" width="71.3" height="11.5"/><rect class="r" x="464" y="-5.75" width="19.7" height="11.5"/><rect class="p8" x="501.7" y="-5.75" width="19.3" height="11.5"/><rect class="p8" x="526.3" y="-5.75" width="25.4" height="11.5"/><rect class="bpc" x="571" y="-5.75" width="113" height="11.5"/><text class="bt" x="627.5" y="3.8">BPC domain</text></g>
<g id="r59" transform="translate(0,874)"><text class="t" x="116.7" y="3.5">potato   StBBR/ BPC2</text><line class="ln" x1="381.7" x2="571"/><rect class="r" x="381.7" y="-5.75" width="71.3" height="11.5"/><rect class="r" x="464" y="-5.75" width="19.7" height="11.5"/><rect class="p8" x="501.7" y="-5.75" width="19.3" height="11.5"/><rect class="p8" x="526.3" y="-5.75" width="25.4" height="11.5"/><rect class="bpc" x="571" y="-5.75" width="113" height="11.5"/><text class="bt" x="627.5" y="3.8">BPC domain</text></g>
<g id="r60" transform="translate(0,888)"><text class="t" x="128.3" y="3.5">Triphysaria   TpBBR/ BPC2</text><line class="ln" x1="433.7" x2="571"/><rect class="d2" x="433.7" y="-5.75" width="14.3" height="11.5"/><rect class="r" x="467" y="-5.75" width="19.7" height="11.5"/><rect class="d2" x="488.7" y="-5.75" width="19.3" height="11.5"/><rect class="p8" x="527.3" y="-5.75" width="25.4" height="11.5"/><rect class="bpc" x="571" y="-5.75" width="113" height="11.5"/><text class="bt" x="627.5" y="3.8">BPC domain</text></g>
<g id="r61" transform="translate(0,902)"><text class="t" x="128.3" y="3.5">Triphysaria   TpBBR/ BPC4</text><line class="ln" x1="433.7" x2="571"/><rect class="d2" x="433.7" y="-5.75" width="14.3" height="11.5"/><rect class="r" x="467" y="-5.75" width="19.7" height="11.5"/><rect class="d2" x="488.7" y="-5.75" width="19.3" height="11.5"/><rect class="p8" x="527.3" y="-5.75" width="25.4" height="11.5"/><rect class="bpc" x="571" y="-5.75" width="113" height="11.5"/><text class="bt" x="627.5" y="3.8">BPC domain</text></g>
<g id="r62" transform="translate(0,916)"><text class="t" x="107.3" y="3.5">Artemisia   AaBBR/BPC3</text><line class="ln" x1="411.3" x2="571"/><rect class="r" x="411.3" y="-5.75" width="71.4" height="11.5"/><rect class="p10" x="491.3" y="-5.75" width="67.4" height="11.5"/><text class="n" x="525" y="4">10</text><rect class="bpc" x="571" y="-5.75" width="113" height="11.5"/><text class="bt" x="627.5" y="3.8">BPC domain</text></g>
<g id="r63" transform="translate(0,930)"><text class="t" x="103.3" y="3.5">Helianthus  HaBBR/BPC3</text><line class="ln" x1="411.3" x2="571"/><rect class="r" x="411.3" y="-5.75" width="71.4" height="11.5"/><rect class="p10" x="491.3" y="-5.75" width="67.4" height="11.5"/><text class="n" x="525" y="4">10</text><rect class="bpc" x="571" y="-5.75" width="113" height="11.5"/><text class="bt" x="627.5" y="3.8">BPC domain</text></g>
<g id="r64" transform="translate(0,944)"><text class="t" x="103.3" y="3.5">Helianthus  HaBBR/BPC2</text><line class="ln" x1="452" x2="571"/><rect class="d2" x="455" y="-5.75" width="14.3" height="11.5"/><rect class="p10" x="486.3" y="-5.75" width="67.4" height="11.5"/><text class="n" x="520" y="4">10</text><rect class="bpc" x="571" y="-5.75" width="113" height="11.5"/><text class="bt" x="627.5" y="3.8">BPC domain</text></g>
<g id="r65" transform="translate(0,958)"><text class="t" x="75" y="3.5">Pi sitchensis   PsBBR/BPC3</text><line class="ln" x1="391.3" x2="571"/><rect class="g14" x="391.3" y="-5.75" width="11.4" height="11.5"/><rect class="r" x="402.7" y="-5.75" width="71.6" height="11.5"/><rect class="r" x="483.3" y="-5.75" width="19.4" height="11.5"/><rect class="g13" x="554" y="-5.75" width="16.7" height="11.5"/><text class="ns" x="391.8" y="4">14</text><rect class="bpc" x="571" y="-5.75" width="113" height="11.5"/><text class="bt" x="627.5" y="3.8">BPC domain</text></g>
<g id="r66" transform="translate(0,972)"><text class="t" x="67.7" y="3.5">Pi taeda  PtBB R/BPC2</text><line class="ln" x1="373" x2="571"/><rect class="g14" x="373" y="-5.75" width="11.7" height="11.5"/><rect class="r" x="384.7" y="-5.75" width="71.3" height="11.5"/><rect class="r" x="465" y="-5.75" width="19.7" height="11.5"/><rect class="g13" x="514.3" y="-5.75" width="38.7" height="11.5"/><text class="ns" x="373.5" y="4">14</text><text class="n" x="533.7" y="4">13</text><rect class="bpc" x="571" y="-5.75" width="113" height="11.5"/><text class="bt" x="627.5" y="3.8">BPC domain</text></g>

<g id="r67" transform="translate(0,1004)"><text class="t" x="44.7" y="3.5">S_moellendorffii  SmBBP/ BPC1</text><line class="ln" x1="422.7" x2="571"/><rect class="d4" x="430.3" y="-5.75" width="34" height="11.5"/><rect class="d4" x="529" y="-5.75" width="33.7" height="11.5"/><rect class="bpc" x="571" y="-5.75" width="113" height="11.5"/><text class="bt" x="627.5" y="3.8">BPC domain</text></g>
<g id="r68" transform="translate(0,1018)"><text class="t" x="70" y="3.5">Pi sitchensis    PsBBR/ BPC2</text><line class="ln" x1="357.7" x2="571"/><rect class="r" x="366.3" y="-5.75" width="71.4" height="11.5"/><rect class="r" x="457.7" y="-5.75" width="14.6" height="11.5"/><rect class="bpc" x="571" y="-5.75" width="113" height="11.5"/><text class="bt" x="627.5" y="3.8">BPC domain</text></g>
<g id="r69" transform="translate(0,1032)"><text class="t" x="36" y="3.5">P_patens</text><line class="ln" x1="358.3" x2="571"/><rect class="r" x="361" y="-5.75" width="71.7" height="11.5"/><rect class="r" x="534" y="-5.75" width="19.7" height="11.5"/><rect class="bpc" x="571" y="-5.75" width="113" height="11.5"/><text class="bt" x="627.5" y="3.8">BPC domain</text></g>
<g id="r70" transform="translate(0,1046)"><text class="t" x="15" y="3.5">M_polymorpha</text><line class="ln" x1="395" x2="571"/><rect class="r" x="395" y="-5.75" width="71.3" height="11.5"/><rect class="bpc" x="571" y="-5.75" width="113" height="11.5"/><text class="bt" x="627.5" y="3.8">BPC domain</text></g>
</svg>
